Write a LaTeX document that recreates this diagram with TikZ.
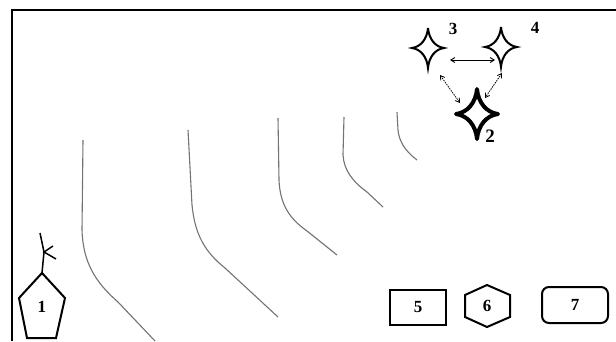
\documentclass[tikz,border=0pt]{standalone}
\usepackage{fontspec}
\setmainfont{Liberation Serif}
\usetikzlibrary{arrows.meta,calc}
\tikzset{
  fourstar/.pic={
    \draw[pic actions] (0,-1) .. controls (0.06,-0.45) and (0.45,-0.06) .. (1,0)
      .. controls (0.45,0.06) and (0.06,0.45) .. (0,1)
      .. controls (-0.06,0.45) and (-0.45,0.06) .. (-1,0)
      .. controls (-0.45,-0.06) and (-0.06,-0.45) .. cycle;
  },
  curveline/.style={draw=black!55, line width=1.1pt},
  lbl/.style={font=\fontsize{17}{17}\selectfont\bfseries, inner sep=0pt},
  shapeline/.style={draw=black, line width=2pt, line join=miter},
  solidarrow/.style={{Straight Barb[length=4pt,width=5pt]}-{Straight Barb[length=4pt,width=5pt]}, line width=0.9pt},
  dotarrow/.style={{Straight Barb[length=4pt,width=5pt]}-{Straight Barb[length=4pt,width=5pt]}, line width=0.8pt, dash pattern=on 1.5pt off 1pt},
}
\begin{document}
\begin{tikzpicture}[x=1pt,y=-1pt]
\useasboundingbox (0,0) rectangle (616,341);
\fill[white] (0,0) rectangle (616,341);
% frame
\draw[line width=2pt] (12,341) -- (12,10) -- (616,10);

% curves
\draw[curveline] (83,140) -- (82,230) .. controls (83,262) and (95,282) .. (118,302) -- (155,341);
\draw[curveline] (188,130) -- (192,205) .. controls (195,235) and (205,252) .. (225,268) -- (278,317);
\draw[curveline] (278,118) -- (279,180) .. controls (280,205) and (290,219) .. (307,231) -- (337,255);
\draw[curveline] (344,117) -- (343,155) .. controls (344,170) and (352,181) .. (367,192) -- (383,207);
\draw[curveline] (397,112) -- (398,130) .. controls (399,141) and (405,151) .. (417,160);

% stars
\coordinate (s2) at (477,114);
\coordinate (s3) at (428,48);
\coordinate (s4) at (501,47);
\pic[line width=2pt, xscale=16, yscale=20] at (s3) {fourstar};
\pic[line width=2pt, xscale=16, yscale=20] at (s4) {fourstar};
\pic[line width=4pt, xscale=21, yscale=25, line join=round] at (s2) {fourstar};
\node[lbl] (l3) at (453,29) {3};
\node[lbl] (l4) at (535,28) {4};
\node[lbl, font=\fontsize{19}{19}\selectfont\bfseries] (l2) at (490,136) {2};

% arrows
\draw[solidarrow] ([shift={(22,12)}]s3) -- ([shift={(-6,13)}]s4);
\draw[dotarrow] ([shift={(12,27)}]s3) -- ([shift={(-17,-11)}]s2);
\draw[dotarrow] ([shift={(1,26)}]s4) -- ([shift={(8,-16)}]s2);

% pentagon with antenna
\coordinate (ptop) at (42,273);
\draw[shapeline] (ptop) -- (65,298) -- (56,338) -- (27,338) -- (19,298) -- cycle;
\node[lbl] (p1) at (42,307) {1};
\coordinate (stemtop) at (40,233);
\coordinate (fork) at (44,252);
\draw[line width=1.5pt] (ptop) -- (fork) -- (stemtop);
\draw[line width=1.5pt] (53,246) -- (fork) -- (56,259);

% box 5
\node[shapeline, rectangle, minimum width=56pt, minimum height=35pt, inner sep=0pt] (b5) at (418,307) {};
\node[lbl] (t5) at (b5) {5};
% hexagon 6
\coordinate (h6) at (487,306);
\draw[shapeline] (487,285) -- (510,295) -- (510,317) -- (487,327) -- (465,317) -- (465,295) -- cycle;
\node[lbl] (t6) at (h6) {6};
% rounded box 7
\node[shapeline, rectangle, rounded corners=7pt, minimum width=66pt, minimum height=36pt, inner sep=0pt] (b7) at (575,305) {};
\node[lbl] (t7) at (b7) {7};
\end{tikzpicture}
\end{document}
